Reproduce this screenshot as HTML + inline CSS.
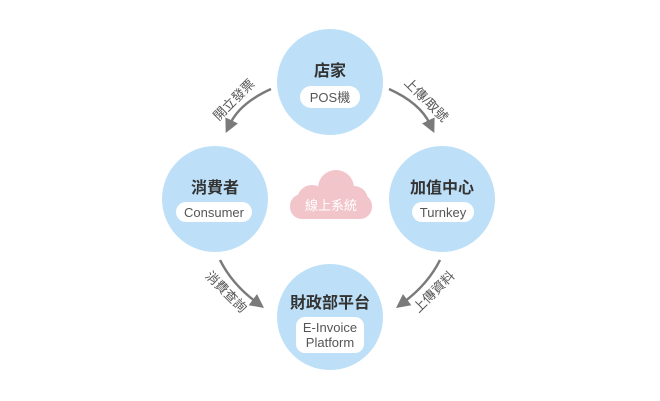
<!DOCTYPE html>
<html><head><meta charset="utf-8"><style>
body{margin:0;width:660px;height:401px;background:#fff;overflow:hidden;font-family:"Liberation Sans","Noto Sans CJK TC",sans-serif}
svg{position:absolute;left:0;top:0}
</style></head><body>
<svg width="660" height="401" viewBox="0 0 660 401">
<defs><marker id="a" markerWidth="14" markerHeight="14" refX="4" refY="7" orient="auto" markerUnits="userSpaceOnUse"><path d="M0,0 L14,7 L0,14 z" fill="#7a7a7a"/></marker></defs>
<g fill="#bde0f8">
<circle cx="330" cy="82" r="53"/>
<circle cx="215" cy="199" r="53"/>
<circle cx="442" cy="199" r="53"/>
<circle cx="330" cy="317" r="53"/>
</g>
<g fill="none" stroke="#7a7a7a" stroke-width="2.5">
<path d="M271,89 Q240,103 230,124" marker-end="url(#a)"/>
<path d="M389,89 Q420,103 430,124" marker-end="url(#a)"/>
<path d="M220,260 Q232,284 256,302" marker-end="url(#a)"/>
<path d="M440,260 Q428,284 404,302" marker-end="url(#a)"/>
</g>
<g fill="#f1c5ca">
<circle cx="336" cy="188" r="18"/>
<circle cx="312" cy="200" r="15"/>
<circle cx="354" cy="200" r="14"/>
<rect x="290" y="194" width="82" height="25" rx="12"/>
</g>
<text x="331" y="210" font-size="13" fill="#fff" text-anchor="middle">線上系統</text>
<g fill="#fff">
<rect x="300" y="86" width="60" height="22" rx="11"/>
<rect x="176" y="202" width="76" height="20" rx="10"/>
<rect x="412" y="202" width="62" height="20" rx="10"/>
<rect x="296" y="317" width="68" height="36" rx="9"/>
</g>
<g font-size="16" font-weight="bold" fill="#333" text-anchor="middle">
<text x="330" y="76">店家</text>
<text x="215" y="193">消費者</text>
<text x="442" y="193">加值中心</text>
<text x="330" y="308">財政部平台</text>
</g>
<g font-size="13" fill="#555" text-anchor="middle">
<text x="330" y="102">POS機</text>
<text x="214" y="217">Consumer</text>
<text x="443" y="217">Turnkey</text>
<text x="330" y="332">E-Invoice</text>
<text x="330" y="347">Platform</text>
</g>
<g font-size="13" fill="#555" text-anchor="middle">
<text transform="translate(237,103) rotate(-45)">開立發票</text>
<text transform="translate(423,103) rotate(45)">上傳/取號</text>
<text transform="translate(223,295) rotate(45)">消費查詢</text>
<text transform="translate(437,295) rotate(-45)">上傳資料</text>
</g>
</svg>
</body></html>
